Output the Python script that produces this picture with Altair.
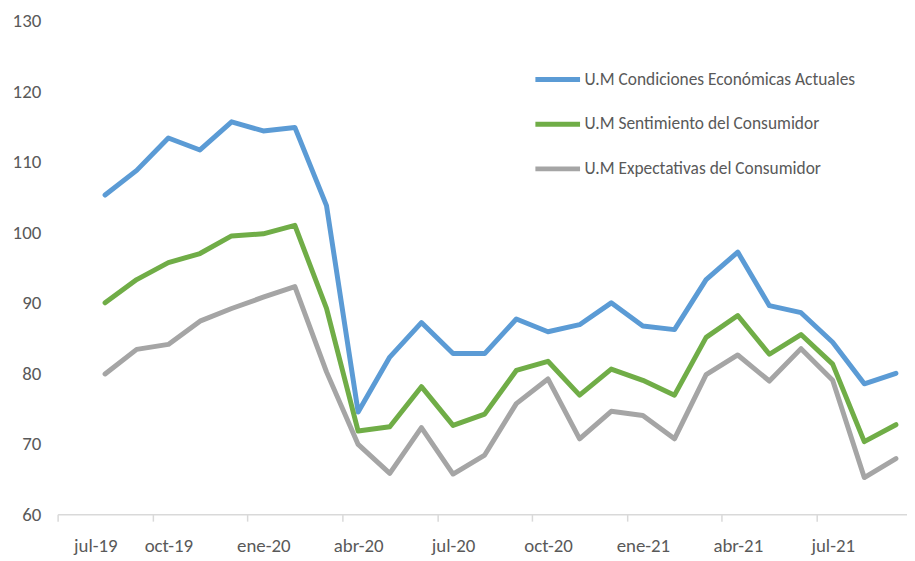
import altair as alt
import pandas as pd

# Months Aug-2019 .. Sep-2021 (26 monthly observations)
months = ["ago-19", "sep-19", "oct-19", "nov-19", "dic-19", "ene-20", "feb-20", "mar-20",
          "abr-20", "may-20", "jun-20", "jul-20", "ago-20", "sep-20", "oct-20", "nov-20",
          "dic-20", "ene-21", "feb-21", "mar-21", "abr-21", "may-21", "jun-21", "jul-21",
          "ago-21", "sep-21"]

condiciones = [105.3, 108.8, 113.4, 111.7, 115.7, 114.4, 114.9, 103.8, 74.5, 82.3, 87.2, 82.8,
               82.8, 87.7, 85.9, 86.9, 90.0, 86.7, 86.2, 93.3, 97.2, 89.6, 88.6, 84.4, 78.5, 80.0]
sentimiento = [90.0, 93.3, 95.7, 97.0, 99.5, 99.8, 101.0, 89.2, 71.8, 72.4, 78.1, 72.6, 74.2,
               80.4, 81.7, 76.9, 80.6, 79.0, 76.9, 85.1, 88.2, 82.7, 85.5, 81.3, 70.3, 72.7]
expectativas = [79.9, 83.4, 84.1, 87.4, 89.2, 90.8, 92.3, 80.2, 69.9, 65.8, 72.3, 65.7, 68.4,
                75.7, 79.2, 70.7, 74.6, 74.0, 70.7, 79.8, 82.6, 78.9, 83.5, 79.0, 65.2, 67.9]

series_names = ["U.M Condiciones Económicas Actuales",
                "U.M Sentimiento del Consumidor",
                "U.M Expectativas del Consumidor"]
series_colors = ["#5B9BD5", "#70AD47", "#A5A5A5"]

tick_labels = ["jul-19", "oct-19", "ene-20", "abr-20", "jul-20", "oct-20", "ene-21", "abr-21", "jul-21"]
tick_values = [3 * i for i in range(len(tick_labels))]
y_ticks = [60, 70, 80, 90, 100, 110, 120, 130]

rows = []
for s_idx, (name, vals) in enumerate(zip(series_names, [condiciones, sentimiento, expectativas])):
    for i, (m, v) in enumerate(zip(months, vals)):
        # x = months since the jul-19 tick; each month is centred in its slot
        rows.append({"serie": name, "orden": s_idx, "mes": m, "x": i + 1.5, "valor": v})
df = pd.DataFrame(rows)

FONT = "Carlito, Lato, sans-serif"
label_expr = "[" + ",".join("'%s'" % t for t in tick_labels) + "][round(datum.value / 3)]"

chart = alt.Chart(df).mark_line(strokeWidth=5, strokeCap="round", strokeJoin="round").encode(
    x=alt.X("x:Q",
            scale=alt.Scale(domain=[0, 26.85], nice=False, zero=False),
            axis=alt.Axis(values=tick_values, labelExpr=label_expr, title=None,
                          grid=False, domainColor="#D9D9D9", domainWidth=1.5,
                          tickColor="#D9D9D9", tickSize=7, tickWidth=1.5,
                          labelOffset=16, labelPadding=16, labelFontSize=19,
                          labelFont=FONT, labelColor="#595959", labelAngle=0,
                          labelOverlap=False)),
    y=alt.Y("valor:Q",
            scale=alt.Scale(domain=[60, 130], nice=False, zero=False),
            axis=alt.Axis(values=y_ticks, title=None, grid=False, domain=False, ticks=False,
                          labelPadding=17, labelFontSize=19, labelFont=FONT,
                          labelColor="#595959")),
    color=alt.Color("serie:N",
                    scale=alt.Scale(domain=series_names, range=series_colors),
                    legend=alt.Legend(title=None, orient="none", legendX=479, legendY=34,
                                      symbolType="stroke", symbolSize=2025,
                                      symbolStrokeWidth=5, labelFontSize=17.5, labelFont=FONT,
                                      labelColor="#595959", labelOffset=2, rowPadding=10,
                                      padding=0, labelLimit=400)),
    order=alt.Order("orden:Q"),
    detail="serie:N",
).properties(
    width=856,
    height=497,
    autosize=alt.AutoSizeParams(type="none"),
    padding={"left": 50, "top": 11, "right": 0, "bottom": 40},
).configure_view(stroke=None)

chart.save("out.html", embed_options={"renderer": "svg", "actions": False})
